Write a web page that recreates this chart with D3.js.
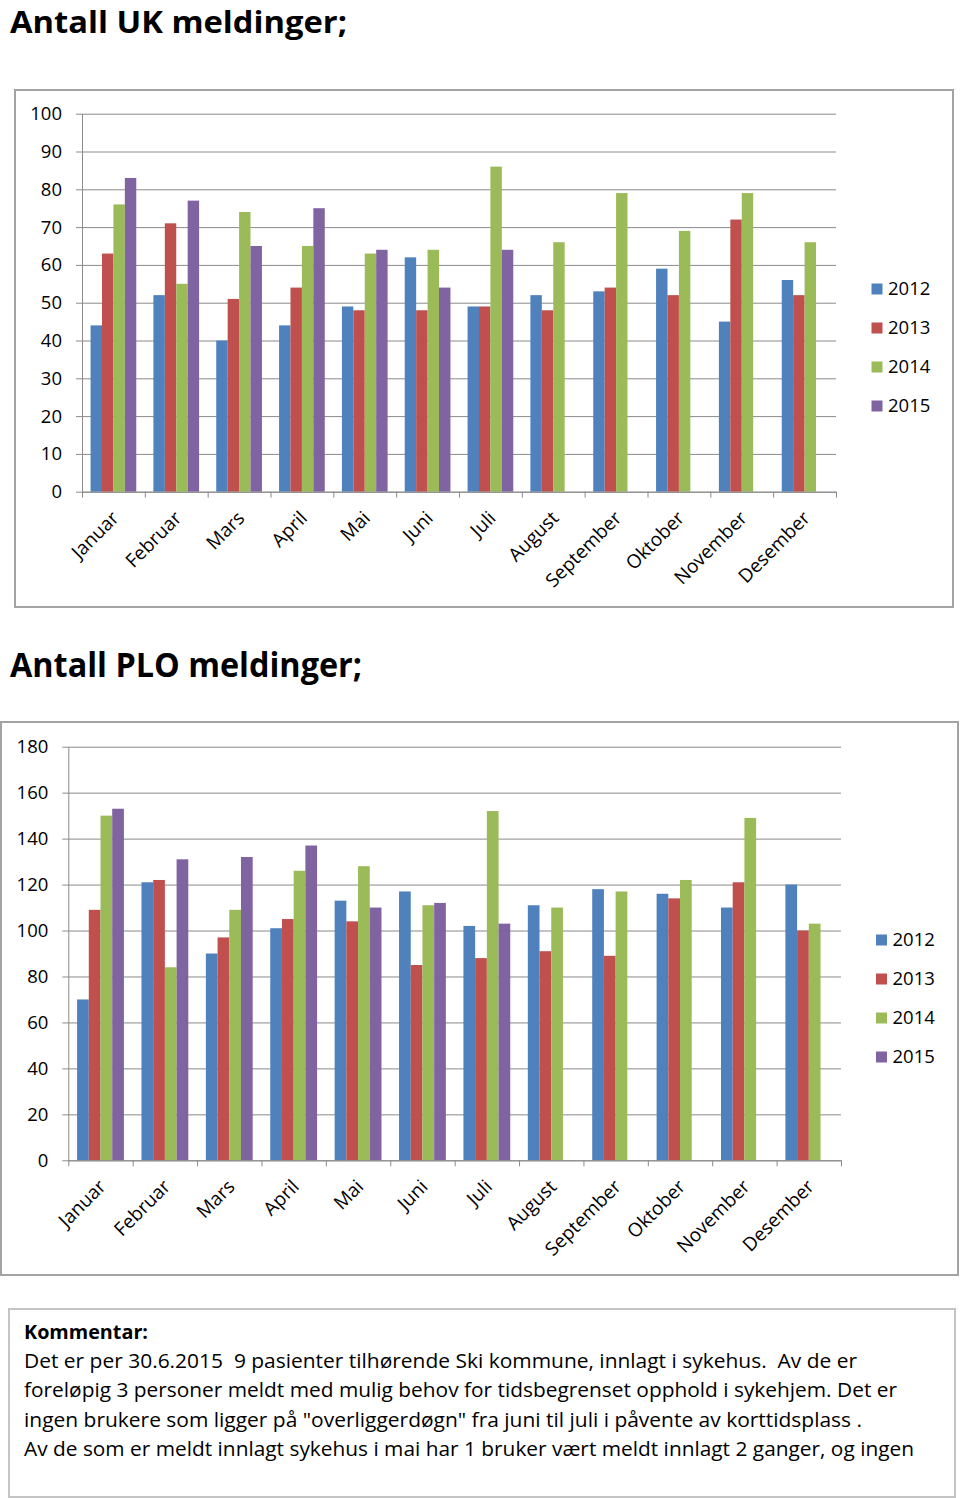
<!DOCTYPE html>
<html>
<head>
<meta charset="utf-8">
<script src="https://cdn.jsdelivr.net/npm/d3@7"></script>
<style>
  body { margin: 0; background: #fff; }
  svg { display: block; font-family: "Open Sans", sans-serif; }
</style>
</head>
<body>
<svg id="chart" width="960" height="1498"></svg>
<script>
// data
var months = ["Januar", "Februar", "Mars", "April", "Mai", "Juni", "Juli",
              "August", "September", "Oktober", "November", "Desember"];
var years = ["2012", "2013", "2014", "2015"];
var colors = ["#4F81BD", "#C0504D", "#9BBB59", "#8064A2"];

var uk2012 = [44, 52, 40, 44, 49, 62, 49, 52, 53, 59, 45, 56];
var uk2013 = [63, 71, 51, 54, 48, 48, 49, 48, 54, 52, 72, 52];
var uk2014 = [76, 55, 74, 65, 63, 64, 86, 66, 79, 69, 79, 66];
var uk2015 = [83, 77, 65, 75, 64, 54, 64];
var ukTicks = [0, 10, 20, 30, 40, 50, 60, 70, 80, 90, 100];

var plo2012 = [70, 121, 90, 101, 113, 117, 102, 111, 118, 116, 110, 120];
var plo2013 = [109, 122, 97, 105, 104, 85, 88, 91, 89, 114, 121, 100];
var plo2014 = [150, 84, 109, 126, 128, 111, 152, 110, 117, 122, 149, 103];
var plo2015 = [153, 131, 132, 137, 110, 112, 103];
var ploTicks = [0, 20, 40, 60, 80, 100, 120, 140, 160, 180];

var commentTitle = "Kommentar:";
var commentLines = [
  "Det er per 30.6.2015  9 pasienter tilhørende Ski kommune, innlagt i sykehus.  Av de er",
  "foreløpig 3 personer meldt med mulig behov for tidsbegrenset opphold i sykehjem. Det er",
  "ingen brukere som ligger på \"overliggerdøgn\" fra juni til juli i påvente av korttidsplass .",
  "Av de som er meldt innlagt sykehus i mai har 1 bruker vært meldt innlagt 2 ganger, og ingen"
];

var svg = d3.select("#chart");
var gridColor = "#8a8a8a";

function drawChart(o) {
  var g = svg.append("g");

  // outer frame
  g.append("rect")
    .attr("x", o.frame[0]).attr("y", o.frame[1])
    .attr("width", o.frame[2]).attr("height", o.frame[3])
    .attr("fill", "#fff")
    .attr("stroke", "#a3a3a3")
    .attr("stroke-width", 2);

  var x = d3.scaleBand()
    .domain(months)
    .range([o.left, o.right]);
  var xs = d3.scaleBand()
    .domain(years)
    .range([0, x.bandwidth()])
    .paddingOuter(0.75);
  var y = d3.scaleLinear()
    .domain([0, o.max])
    .range([o.bottom, o.top]);

  // gridlines
  g.append("g")
    .attr("transform", "translate(" + o.left + ",0)")
    .call(d3.axisLeft(y).tickValues(o.ticks).tickSize(-(o.right - o.left)).tickFormat(""))
    .call(function(s) { s.select(".domain").remove(); })
    .selectAll("line")
    .attr("stroke", gridColor);

  // y axis
  var ya = g.append("g")
    .attr("transform", "translate(" + o.left + ",0)")
    .call(d3.axisLeft(y).tickValues(o.ticks).tickSize(6).tickPadding(14).tickSizeOuter(0));
  ya.select(".domain").attr("stroke", gridColor);
  ya.selectAll("line").attr("stroke", gridColor);
  ya.selectAll("text")
    .style("font-size", "18.5px")
    .style("font-family", "Open Sans")
    .attr("fill", "#000");

  // bars
  o.series.forEach(function(vals, i) {
    g.append("g")
      .selectAll("rect")
      .data(vals)
      .enter()
      .append("rect")
        .attr("x", function(d, j) { return x(months[j]) + xs(years[i]); })
        .attr("y", function(d) { return y(d); })
        .attr("width", xs.bandwidth())
        .attr("height", function(d) { return o.bottom - y(d); })
        .attr("fill", colors[i]);
  });

  // x axis: ticks at category boundaries
  var xi = d3.scaleLinear().domain([0, months.length]).range([o.left, o.right]);
  var xa = g.append("g")
    .attr("transform", "translate(0," + o.bottom + ")")
    .call(d3.axisBottom(xi).tickValues(d3.range(months.length + 1)).tickSize(6).tickSizeOuter(0).tickFormat(""));
  xa.select(".domain").attr("stroke", gridColor);
  xa.selectAll("line").attr("stroke", gridColor);

  // rotated month labels
  g.append("g")
    .selectAll("text")
    .data(months)
    .enter()
    .append("text")
      .attr("transform", function(d) {
        return "translate(" + (x(d) + x.bandwidth() / 2 - 3) + "," + (o.bottom + 18) + ") rotate(-45)";
      })
      .attr("dy", "0.71em")
      .attr("text-anchor", "end")
      .style("font-size", "19px")
      .text(function(d) { return d; });

  // legend
  var lg = g.append("g")
    .selectAll("g")
    .data(years)
    .enter()
    .append("g")
      .attr("transform", function(d, i) { return "translate(" + o.legend[0] + "," + (o.legend[1] + i * 39) + ")"; });
  lg.append("rect")
    .attr("x", 0).attr("y", -5.5)
    .attr("width", 11).attr("height", 11)
    .attr("fill", function(d, i) { return colors[i]; });
  lg.append("text")
    .attr("x", 16.5)
    .attr("dy", "0.35em")
    .style("font-size", "18.5px")
    .text(function(d) { return d; });
}

// titles
svg.append("text")
  .attr("x", 10).attr("y", 32.5)
  .attr("textLength", 337).attr("lengthAdjust", "spacingAndGlyphs")
  .style("font-size", "31px").style("font-weight", "bold")
  .text("Antall UK meldinger;");

svg.append("text")
  .attr("x", 10).attr("y", 677)
  .attr("textLength", 352).attr("lengthAdjust", "spacingAndGlyphs")
  .style("font-size", "34px").style("font-weight", "bold")
  .text("Antall PLO meldinger;");

drawChart({
  frame: [15, 90, 938, 517],
  left: 82, right: 836, top: 113.7, bottom: 491.7,
  max: 100, ticks: ukTicks,
  series: [uk2012, uk2013, uk2014, uk2015],
  legend: [871.5, 289]
});

drawChart({
  frame: [1, 722, 957, 553],
  left: 68.3, right: 841, top: 746.7, bottom: 1160.3,
  max: 180, ticks: ploTicks,
  series: [plo2012, plo2013, plo2014, plo2015],
  legend: [876, 940]
});

// comment box
svg.append("rect")
  .attr("x", 9).attr("y", 1309)
  .attr("width", 946).attr("height", 188)
  .attr("fill", "#fff")
  .attr("stroke", "#c4c4c4")
  .attr("stroke-width", 2);

svg.append("text")
  .attr("x", 24).attr("y", 1339)
  .attr("textLength", 124).attr("lengthAdjust", "spacingAndGlyphs")
  .style("font-size", "20px").style("font-weight", "bold")
  .text(commentTitle);

var lineWidths = [833, 873, 838, 890];
svg.append("g")
  .selectAll("text")
  .data(commentLines)
  .enter()
  .append("text")
    .attr("x", 24)
    .attr("y", function(d, i) { return 1368 + i * 29.3; })
    .attr("textLength", function(d, i) { return lineWidths[i]; })
    .attr("lengthAdjust", "spacingAndGlyphs")
    .style("font-size", "20px")
    .style("white-space", "pre")
    .text(function(d) { return d; });
</script>
</body>
</html>
